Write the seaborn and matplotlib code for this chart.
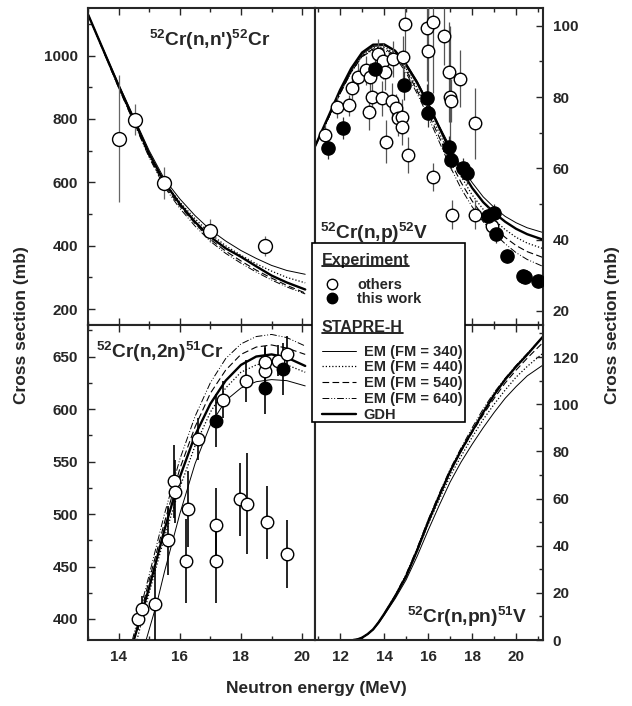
import numpy as np
import matplotlib
matplotlib.use('Agg')
import matplotlib.pyplot as plt
from matplotlib.lines import Line2D
from matplotlib.patches import Rectangle
from matplotlib.ticker import MultipleLocator
import seaborn as sns

sns.set_style("ticks")
plt.rcParams['font.family'] = ['Liberation Sans', 'DejaVu Sans']
plt.rcParams['font.weight'] = 'bold'
plt.rcParams['mathtext.fontset'] = 'custom'
plt.rcParams['mathtext.rm'] = 'Liberation Sans:bold'
plt.rcParams['mathtext.bf'] = 'Liberation Sans:bold'
plt.rcParams['mathtext.it'] = 'Liberation Sans:bold:italic'

MODELS = ['EM (FM = 340)', 'EM (FM = 440)', 'EM (FM = 540)', 'EM (FM = 640)', 'GDH']

# ---- (n,n') ----
nn_E = [13.0, 14.0, 15.0, 15.5, 16.0, 16.5, 17.0, 17.5, 18.0, 18.5, 19.0, 19.5, 20.1]
nn_curves = {
    'EM (FM = 340)': [1130, 910, 700, 610, 548, 495, 450, 415, 385, 360, 338, 322, 310],
    'EM (FM = 440)': [1130, 905, 692, 600, 538, 485, 438, 400, 370, 343, 320, 300, 283],
    'EM (FM = 540)': [1130, 900, 682, 590, 525, 470, 420, 383, 352, 323, 298, 275, 251],
    'EM (FM = 640)': [1130, 898, 678, 585, 518, 462, 414, 376, 345, 317, 292, 270, 248],
    'GDH': [1130, 905, 690, 600, 532, 475, 428, 392, 365, 335, 306, 284, 262],
}
nn_others_E = [14.0, 14.52, 15.47, 17.0, 18.77]
nn_others_y = [738, 798, 598, 447, 400]
nn_others_err = [200, 48, 50, 36, 32]

# ---- (n,p) ----
np_E = [10.85, 11.5, 12.0, 12.5, 13.0, 13.5, 14.0, 14.5, 15.0, 15.5, 16.0, 16.5,
        17.0, 17.5, 18.0, 18.5, 19.0, 19.5, 20.0, 20.5, 21.2]
np_curves = {
    'EM (FM = 340)': [66, 74.5, 81.5, 87.5, 92, 94.2, 94.5, 93, 89.5, 84.5, 78.5, 72,
                      66, 60.5, 56, 52, 49, 46.5, 44.7, 43.3, 42],
    'EM (FM = 440)': [66, 74.5, 81, 87, 91.5, 93.8, 94, 92.3, 88, 82.5, 76.5, 70,
                      63.5, 57.7, 52.5, 48.5, 45.5, 42.8, 40.6, 39, 37.5],
    'EM (FM = 540)': [66, 74.5, 81, 87, 91.5, 93.5, 93.6, 91.8, 87.5, 81.8, 75.5, 68.8,
                      62, 56, 50.8, 46.7, 43.5, 40.6, 38.3, 36.6, 35],
    'EM (FM = 640)': [66, 74.5, 81, 87, 91.3, 93.2, 93.2, 91.3, 86.8, 81, 74.5, 67.5,
                      60.5, 54.3, 49.2, 45, 41.8, 38.8, 36.3, 34.4, 32.5],
    'GDH': [66, 75, 82, 88, 92.5, 94.7, 94.8, 93, 89, 84, 78, 71.5,
            65, 59.5, 54.5, 50.5, 47.5, 45, 43, 41.5, 40],
}
np_others_E = [11.3, 11.85, 12.4, 12.55, 12.8, 13.2, 13.3, 13.35, 13.45, 13.7, 13.9, 13.95,
               14.05, 14.1, 14.35, 14.4, 14.55, 14.65, 14.8, 14.8, 14.85, 14.95, 15.1,
               15.95, 16.0, 16.2, 16.2, 16.7, 16.95, 17.0, 17.05, 17.1, 17.45, 18.15,
               18.15, 18.9]
np_others_y = [69.3, 77.2, 77.7, 82.4, 85.6, 87.5, 75.8, 85.6, 80.0, 92.2, 79.6, 90.2,
               87.0, 67.5, 79.0, 90.7, 76.8, 74.0, 74.4, 71.6, 91.2, 100.5, 63.8,
               99.5, 93.0, 101.0, 57.6, 97.0, 87.0, 80.0, 79.0, 47.0, 85.1, 72.6,
               47.0, 43.7]
np_others_err = [3, 3, 3, 3, 4, 4, 5, 4, 5, 4, 5, 5,
                 5, 6, 5, 5, 4, 5, 5, 5, 6, 12, 5,
                 15, 18, 20, 4, 8, 14, 20, 6, 4, 8, 10,
                 4, 3]
np_this_E = [11.45, 12.15, 13.6, 14.9, 15.95, 16.0, 16.95, 17.05, 17.6, 17.75,
             18.7, 19.0, 19.1, 19.6, 20.3, 20.4, 21.0]
np_this_y = [65.7, 71.3, 88.0, 83.3, 79.6, 75.5, 66.0, 62.4, 60.0, 58.7,
             46.5, 47.5, 41.5, 35.3, 29.8, 29.5, 28.4]
np_this_err = [3, 3, 3, 4, 4, 4, 3, 3, 3, 3, 2.5, 2.5, 2.5, 2, 2, 2, 2]

# ---- (n,2n) ----
n2n_curves = {
    'EM (FM = 340)': ([14.9, 15.25, 15.5, 16.0, 16.5, 17.0, 17.5, 18.0, 18.5, 19.0, 19.5, 20.1],
                      [380, 415, 445, 500, 548, 585, 608, 620, 626, 628, 627, 622]),
    'EM (FM = 440)': ([14.6, 15.0, 15.5, 16.0, 16.5, 17.0, 17.5, 18.0, 18.5, 19.0, 19.5, 20.1],
                      [380, 425, 478, 525, 565, 597, 620, 635, 642, 645, 642, 635]),
    'EM (FM = 540)': ([14.5, 15.0, 15.5, 16.0, 16.5, 17.0, 17.5, 18.0, 18.5, 19.0, 19.5, 20.1],
                      [380, 437, 492, 543, 583, 615, 637, 652, 659, 661, 658, 652]),
    'EM (FM = 640)': ([14.45, 15.0, 15.5, 16.0, 16.5, 17.0, 17.5, 18.0, 18.5, 19.0, 19.5, 20.1],
                      [380, 442, 500, 552, 593, 625, 648, 662, 669, 671, 668, 660]),
    'GDH': ([14.5, 14.75, 15.0, 15.5, 16.0, 16.5, 17.0, 17.5, 18.0, 18.5, 19.0, 19.5, 20.1],
            [380, 405, 430, 485, 535, 575, 605, 627, 642, 650, 652, 649, 641]),
}
n2n_others_E = [14.65, 14.75, 15.2, 15.6, 15.8, 15.83, 16.2, 16.28, 16.6, 17.2, 17.2,
                17.42, 17.98, 18.17, 18.2, 18.77, 18.8, 18.86, 19.2, 19.5, 19.5]
n2n_others_y = [400, 410, 414, 475, 531, 521, 455, 505, 571, 490, 455,
                609, 514, 627, 510, 636, 645, 492, 646, 652, 462]
n2n_others_yerr = [10, 12, 35, 33, 35, 30, 40, 36, 20, 35, 40,
                   18, 35, 20, 48, 22, 15, 35, 15, 18, 32]
n2n_others_xerr = [0, 0.15, 0, 0.15, 0, 0, 0, 0.2, 0, 0.2, 0,
                   0, 0, 0, 0, 0.1, 0.15, 0, 0.1, 0, 0]
n2n_this_E = [17.2, 18.77, 19.38]
n2n_this_y = [589, 620, 638]
n2n_this_yerr = [25, 25, 25]
n2n_this_xerr = [0, 0.15, 0.15]

# ---- (n,pn) ----
npn_E = [12.6, 12.8, 13.0, 13.25, 13.5, 13.75, 14.0, 14.5, 15.0, 15.5, 16.0, 16.5,
         17.0, 17.5, 18.0, 18.5, 19.0, 19.5, 20.0, 20.5, 21.2]
npn_curves = {
    'EM (FM = 340)': [0, 0.3, 1, 2.4, 4.3, 7.1, 10.5, 17.5, 25.5, 35.5, 46.5, 57,
                      67, 75.5, 83, 90, 96.5, 102.5, 107.5, 112, 116.5],
    'EM (FM = 440)': [0, 0.3, 1, 2.5, 4.5, 7.5, 11, 18.5, 27, 37.5, 49, 59.5,
                      69.5, 78, 86, 93.5, 100, 106, 111.5, 116, 121.5],
    'EM (FM = 540)': [0, 0.3, 1, 2.5, 4.5, 7.5, 11, 18.5, 27.5, 38.5, 50.5, 61,
                      71.5, 80, 88, 95.5, 102.5, 109, 114.5, 119.5, 126],
    'EM (FM = 640)': [0, 0.3, 1, 2.5, 4.5, 7.6, 11.2, 19, 28, 39, 51, 62,
                      72.5, 81.5, 90, 98, 105, 111, 116.5, 121.5, 128.5],
    'GDH': [0, 0.3, 1, 2.5, 4.5, 7.5, 11, 18.5, 27, 38, 50, 61,
            71.5, 80.5, 88.5, 96.5, 104, 110.5, 116, 121, 128.5],
}

STYLES = {
    'EM (FM = 340)': dict(linestyle='-', linewidth=0.7),
    'EM (FM = 440)': dict(linestyle=(0, (1, 1.6)), linewidth=0.9),
    'EM (FM = 540)': dict(linestyle=(0, (6, 3)), linewidth=0.8),
    'EM (FM = 640)': dict(linestyle=(0, (7, 2, 1, 2, 1, 2)), linewidth=0.7),
    'GDH': dict(linestyle='-', linewidth=1.7),
}

W, H = 632, 706
fig = plt.figure(figsize=(W / 100, H / 100), dpi=100)


def px_axes(l, t, r, b):
    return fig.add_axes([l / W, 1 - b / H, (r - l) / W, (b - t) / H])


def draw_curves(ax, E, curves):
    for name in MODELS:
        if isinstance(curves[name], tuple):
            x, y = curves[name]
        else:
            x, y = E, curves[name]
        sns.lineplot(x=x, y=y, ax=ax, color='black', estimator=None, sort=False,
                     zorder=2, **STYLES[name])


def draw_points(ax, x, y, yerr, filled, xerr=None, ecolor='#555555', elw=1.0, ms=9):
    ax.errorbar(x, y, yerr=yerr, xerr=xerr, fmt='none', ecolor=ecolor, elinewidth=elw,
                capsize=0, zorder=3)
    sns.scatterplot(x=x, y=y, ax=ax, s=ms ** 2, marker='o',
                    facecolor='black' if filled else 'white', edgecolor='black',
                    linewidth=1.0, zorder=4, legend=False)


def style_axes(ax, xlim, ylim, ymaj, ymin, side, xlabels):
    ax.set_xlim(*xlim)
    ax.set_ylim(*ylim)
    ax.xaxis.set_major_locator(MultipleLocator(2))
    ax.xaxis.set_minor_locator(MultipleLocator(1))
    ax.yaxis.set_major_locator(MultipleLocator(ymaj))
    ax.yaxis.set_minor_locator(MultipleLocator(ymin))
    for sp in ax.spines.values():
        sp.set_linewidth(1.5)
        sp.set_visible(True)
    if side == 'right':
        ax.yaxis.tick_right()
    ax.tick_params(which='both', direction='in', top=True, bottom=True,
                   left=(side == 'left'), right=(side == 'right'),
                   labelleft=(side == 'left'), labelright=(side == 'right'),
                   labelbottom=xlabels, width=1.0, labelsize=11, pad=7)
    ax.tick_params(which='major', length=5)
    ax.tick_params(which='minor', length=3)
    for lab in ax.get_xticklabels() + ax.get_yticklabels():
        lab.set_fontweight('bold')
    ax.set_xlabel('')
    ax.set_ylabel('')


XL = (13.0, 20.42)
XR = (10.86, 21.22)

ax_nn = px_axes(88, 8, 315, 325)
ax_np = px_axes(315, 8, 543, 325)
ax_2n = px_axes(88, 325, 315, 640)
ax_pn = px_axes(315, 325, 543, 640)

draw_curves(ax_nn, nn_E, nn_curves)
draw_points(ax_nn, nn_others_E, nn_others_y, nn_others_err, False, ecolor='#666666', elw=0.9, ms=10)
style_axes(ax_nn, XL, (150, 1150), 200, 100, 'left', False)
ax_nn.text(0.535, 0.9, r"$^{52}$Cr(n,n')$^{52}$Cr", transform=ax_nn.transAxes,
           ha='center', va='center', fontsize=13.8, fontweight='bold')

draw_curves(ax_np, np_E, np_curves)
draw_points(ax_np, np_others_E, np_others_y, np_others_err, False, ecolor='#555555', elw=0.9, ms=9)
draw_points(ax_np, np_this_E, np_this_y, np_this_err, True, ecolor='#333333', elw=0.9, ms=9.5)
style_axes(ax_np, XR, (16, 105), 20, 10, 'right', False)
ax_np.text(0.02, 0.29, r"$^{52}$Cr(n,p)$^{52}$V", transform=ax_np.transAxes,
           ha='left', va='center', fontsize=13.8, fontweight='bold')

draw_curves(ax_2n, None, n2n_curves)
draw_points(ax_2n, n2n_others_E, n2n_others_y, n2n_others_yerr, False,
            xerr=n2n_others_xerr, ecolor='black', elw=1.2, ms=9)
draw_points(ax_2n, n2n_this_E, n2n_this_y, n2n_this_yerr, True,
            xerr=n2n_this_xerr, ecolor='black', elw=1.2, ms=9)
style_axes(ax_2n, XL, (380, 680), 50, 25, 'left', True)
ax_2n.text(0.035, 0.915, r"$^{52}$Cr(n,2n)$^{51}$Cr", transform=ax_2n.transAxes,
           ha='left', va='center', fontsize=13.8, fontweight='bold')

draw_curves(ax_pn, npn_E, npn_curves)
style_axes(ax_pn, XR, (0, 133.6), 20, 10, 'right', True)
ax_pn.text(0.93, 0.073, r"$^{52}$Cr(n,pn)$^{51}$V", transform=ax_pn.transAxes,
           ha='right', va='center', fontsize=13.8, fontweight='bold')

fig.text(22 / W, 1 - 325 / H, 'Cross section (mb)', rotation=90, ha='center', va='center',
         fontsize=12.5, fontweight='bold')
fig.text(612 / W, 1 - 325 / H, 'Cross section (mb)', rotation=90, ha='center', va='center',
         fontsize=12.5, fontweight='bold')
fig.text(316 / W, 1 - 688 / H, 'Neutron energy (MeV)', ha='center', va='center',
         fontsize=12.5, fontweight='bold')

# legend box
box = Rectangle((312 / W, 1 - 422 / H), 153 / W, 179 / H, transform=fig.transFigure,
                facecolor='white', edgecolor='black', linewidth=1.2, zorder=3)
fig.add_artist(box)

exp_handles = [Line2D([], [], marker='o', ls='none', mfc='white', mec='black', mew=1.0, ms=7.5),
               Line2D([], [], marker='o', ls='none', mfc='black', mec='black', mew=1.0, ms=7.5)]
leg1 = fig.legend(exp_handles, ['others', 'this work'], loc='upper left',
                  bbox_to_anchor=(322 / W, 1 - 253 / H), bbox_transform=fig.transFigure,
                  frameon=False, title='Experiment', alignment='left', borderpad=0,
                  borderaxespad=0, handlelength=1.4, handletextpad=1.0, labelspacing=0.0,
                  fontsize=10.5, title_fontproperties={'weight': 'bold', 'size': 11.5})

line_handles = [Line2D([], [], color='black', **STYLES[m]) for m in MODELS]
leg2 = fig.legend(line_handles, MODELS, loc='upper left',
                  bbox_to_anchor=(322 / W, 1 - 320 / H), bbox_transform=fig.transFigure,
                  frameon=False, title='STAPRE-H', alignment='left', borderpad=0,
                  borderaxespad=0, handlelength=2.3, handletextpad=0.55, labelspacing=0.12,
                  fontsize=10.5, title_fontproperties={'weight': 'bold', 'size': 11.5})
for leg in (leg1, leg2):
    leg.set_zorder(4)
    leg._legend_box.sep = 7
    for t in leg.get_texts():
        t.set_fontweight('bold')

# underline the legend titles
fig.canvas.draw()
inv = fig.transFigure.inverted()
for leg in (leg1, leg2):
    bb = leg.get_title().get_window_extent(fig.canvas.get_renderer())
    (x0, y0), (x1, _) = inv.transform([[bb.x0, bb.y0 + 2], [bb.x1, bb.y1]])
    fig.add_artist(Line2D([x0, x1], [y0, y0], transform=fig.transFigure,
                          color='black', linewidth=1.2, zorder=5))

fig.savefig('out.png', dpi=100)
